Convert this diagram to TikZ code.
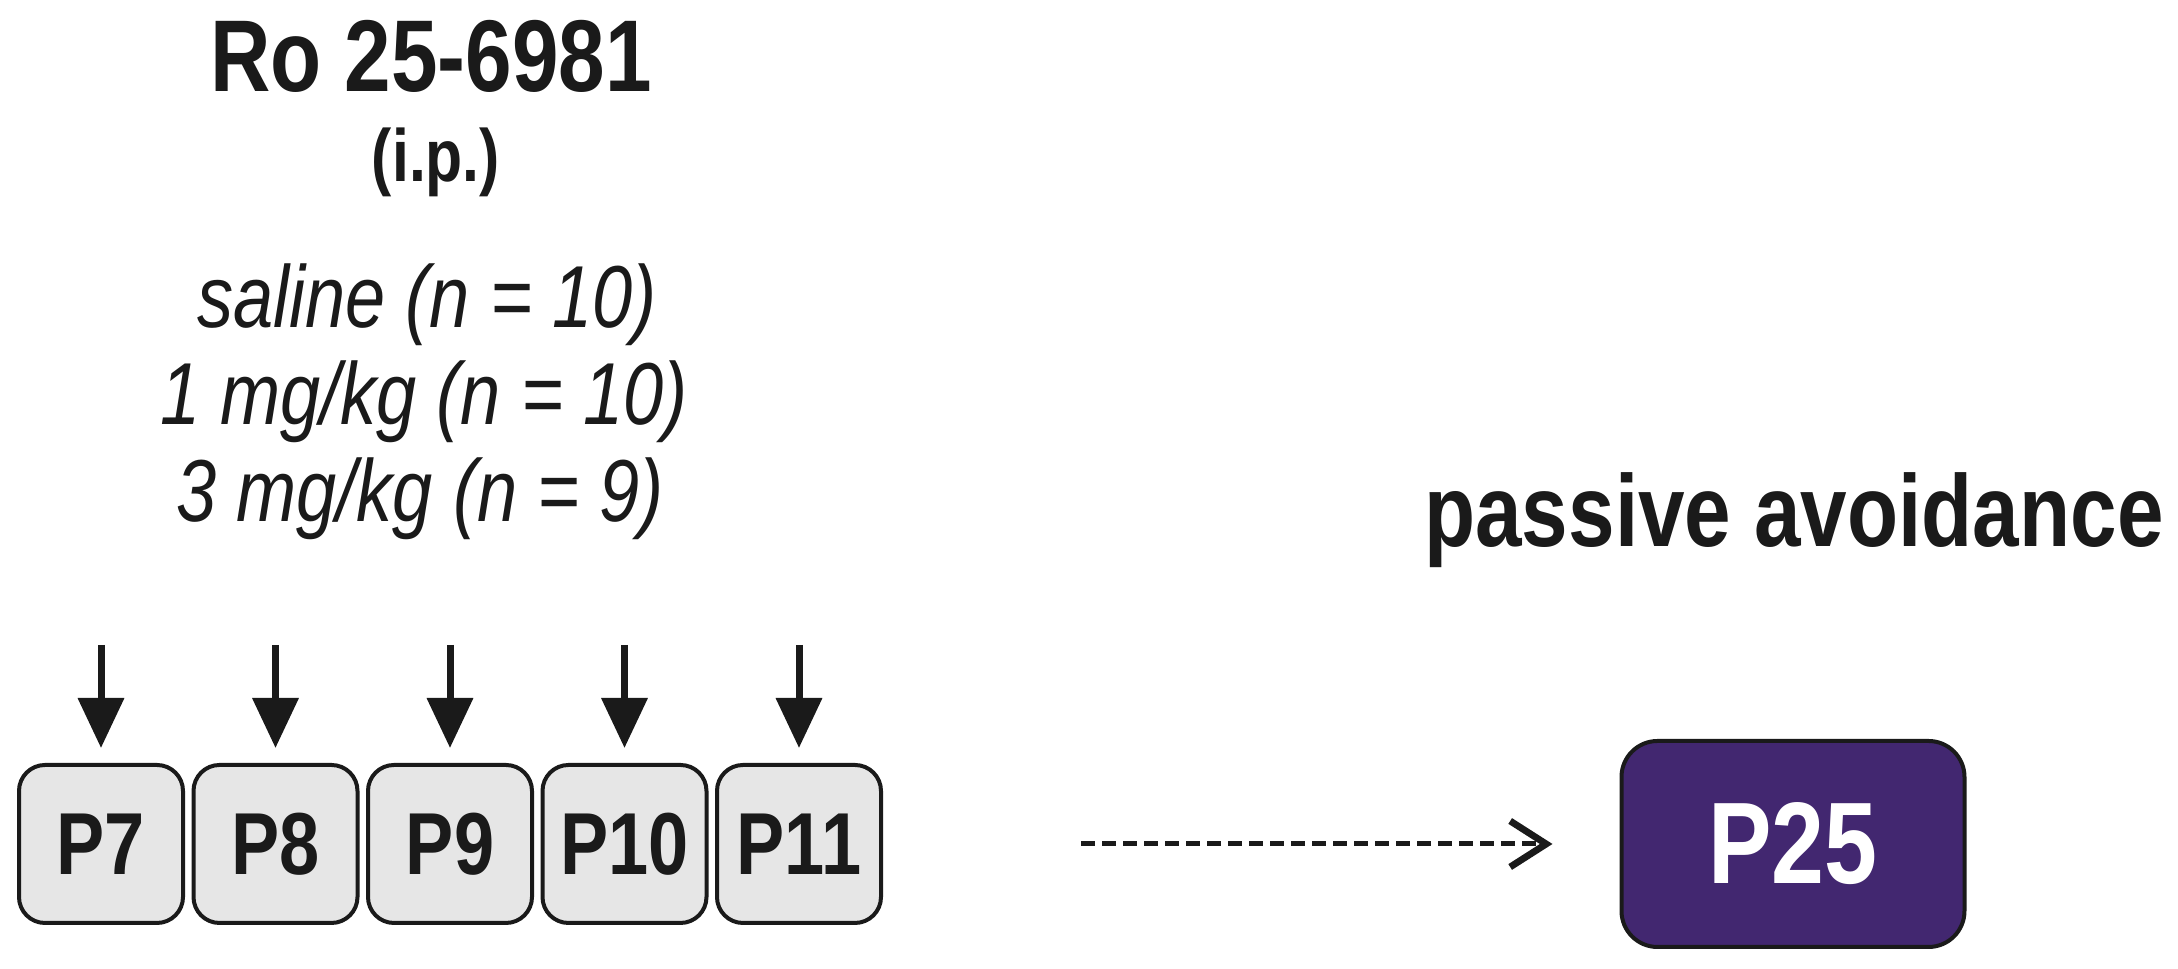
\documentclass[tikz,border=0pt]{standalone}
\usepackage{fontspec}
\setmainfont{Liberation Sans}[FakeStretch=0.82]
\usepackage{xcolor}
\usetikzlibrary{arrows.meta}
\definecolor{inkblack}{RGB}{26,26,26}
\definecolor{dayfill}{RGB}{230,230,230}
\definecolor{testfill}{RGB}{66,39,112}

\begin{document}
\begin{tikzpicture}[x=0.25pt,y=-0.25pt,
        daybox/.style={draw=inkblack,line width=1pt,fill=dayfill,rounded corners=6.5pt,
            minimum width=41pt,minimum height=39.5pt,inner sep=0pt,text=inkblack,
            font=\bfseries\fontsize{22}{26}\selectfont},
        testbox/.style={draw=inkblack,line width=1pt,fill=testfill,rounded corners=9pt,
            minimum width=85.75pt,minimum height=51.5pt,inner sep=0pt,text=white,
            font=\bfseries\fontsize{29}{34}\selectfont},
        injection/.style={draw=inkblack,line width=1.75pt,shorten >=3.75pt,
            -{Triangle[length=12.5pt,width=11.25pt]}},
        later/.style={draw=inkblack,line width=1.25pt,dash pattern=on 3.5pt off 1.75pt,
            shorten <=49.5pt,shorten >=16.75pt,
            -{Straight Barb[length=9pt,width=11.5pt,line width=1.7pt]}},
        heading/.style={anchor=base,text=inkblack,inner sep=0pt}]
    \useasboundingbox (0,0) rectangle (2178,969);
    \fill[white] (0,0) rectangle (2178,969);
    % drug and groups
    \node[heading,font=\bfseries\fontsize{25.5}{30}\selectfont] (drug) at (431,92) {Ro 25-6981};
    \node[heading,font=\bfseries\fontsize{18.5}{22}\selectfont] (route) at (436,182) {(i.p.)};
    \node[heading,font=\itshape\fontsize{22}{26}\selectfont] (saline) at (427,328) {saline (n = 10)};
    \node[heading,font=\itshape\fontsize{22}{26}\selectfont] (low) at (424,425) {1 mg/kg (n = 10)};
    \node[heading,font=\itshape\fontsize{22}{26}\selectfont] (high) at (420,522) {3 mg/kg (n = 9)};
    % daily injections P7-P11
    \foreach \d [count=\i from 0] in {7,...,11} {
        \node[daybox] (p\d) at (101+174.5*\i,844) {P\d};
        \coordinate (inj\d) at (101+174.5*\i,645);
        \draw[injection] (inj\d) -- (p\d.north);
    }
    % test day
    \node[heading,font=\bfseries\fontsize{25.5}{30}\selectfont] (task) at (1794,547) {passive avoidance};
    \node[testbox] (p25) at (1793,844) {P25};
    \draw[later] (p11.east) -- (p25.west);
\end{tikzpicture}
\end{document}
